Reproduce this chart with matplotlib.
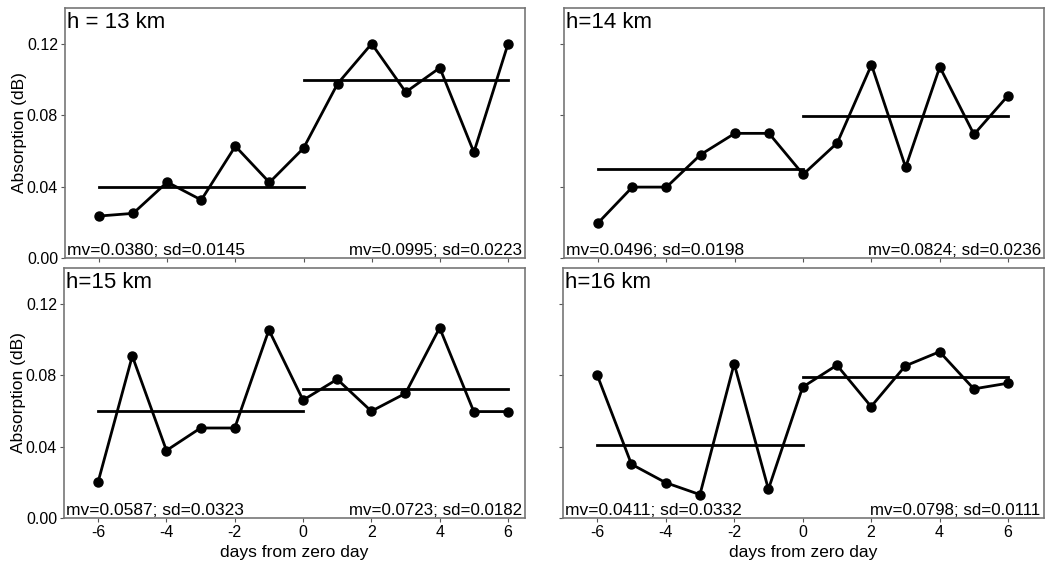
import numpy as np
import matplotlib
matplotlib.use('Agg')
import matplotlib.pyplot as plt

plt.rcParams['font.family'] = ['Liberation Sans', 'DejaVu Sans']

days = [-6, -5, -4, -3, -2, -1, 0, 1, 2, 3, 4, 5, 6]

# absorption values
h13 = [0.0235, 0.025, 0.0425, 0.0325, 0.0626, 0.0423, 0.0615, 0.0976, 0.120, 0.0929, 0.1065, 0.0592, 0.1198]
h14 = [0.0197, 0.0397, 0.0397, 0.0579, 0.0698, 0.0698, 0.0468, 0.0645, 0.1082, 0.0508, 0.107, 0.0692, 0.091]
h15 = [0.0203, 0.0907, 0.0378, 0.0504, 0.0504, 0.1053, 0.066, 0.0777, 0.0598, 0.0698, 0.1065, 0.0596, 0.0596]
h16 = [0.080, 0.0301, 0.0198, 0.0131, 0.0864, 0.0161, 0.0733, 0.0856, 0.0624, 0.0852, 0.0931, 0.0723, 0.0755]

# mean levels drawn before / after zero day
mean_before = [0.040, 0.0498, 0.0602, 0.0407]
mean_after = [0.0999, 0.0794, 0.072, 0.0791]

labels = ['h = 13 km', 'h=14 km', 'h=15 km', 'h=16 km']
stats_before = ['mv=0.0380; sd=0.0145', 'mv=0.0496; sd=0.0198',
                'mv=0.0587; sd=0.0323', 'mv=0.0411; sd=0.0332']
stats_after = ['mv=0.0995; sd=0.0223', 'mv=0.0824; sd=0.0236',
               'mv=0.0723; sd=0.0182', 'mv=0.0798; sd=0.0111']
series = [h13, h14, h15, h16]

W, H = 1049, 568
fig = plt.figure(figsize=(W / 100, H / 100), dpi=100)

# axes boxes in pixels: left, top, right, bottom
boxes = [(65, 8, 525, 258), (564, 8, 1044, 258),
         (64, 268, 525, 518), (563, 268, 1044, 518)]
xlims = [(-7, 6.5), (-7, 7.05), (-7, 6.5), (-7, 7.05)]

for i, (l, t, r, b) in enumerate(boxes):
    ax = fig.add_axes([l / W, 1 - b / H, (r - l) / W, (b - t) / H])
    ax.plot(days, series[i], color='black', lw=2, marker='o', ms=6.5, zorder=3)
    ax.plot([-6, 0], [mean_before[i]] * 2, color='black', lw=2)
    ax.plot([0, 6], [mean_after[i]] * 2, color='black', lw=2)
    ax.set_xlim(*xlims[i])
    ax.set_ylim(0, 0.14)
    ax.set_yticks([0.0, 0.04, 0.08, 0.12])
    ax.set_xticks([-6, -4, -2, 0, 2, 4, 6])
    for sp in ax.spines.values():
        sp.set_color('#777777')
        sp.set_linewidth(1.2)
    ax.tick_params(direction='out', length=3, width=0.8, color='#555555',
                   labelsize=11.5, pad=2)
    if i % 2 == 0:
        ax.set_yticklabels(['0.00', '0.04', '0.08', '0.12'])
        ax.set_ylabel('Absorption (dB)', fontsize=12.5, labelpad=0)
    else:
        ax.set_yticklabels([])
    if i >= 2:
        ax.set_xticklabels(['-6', '-4', '-2', '0', '2', '4', '6'])
        ax.set_xlabel('days from zero day', fontsize=12.5, labelpad=4)
    else:
        ax.set_xticklabels([])
    ax.text(0.004, 0.985, labels[i], transform=ax.transAxes, ha='left', va='top',
            fontsize=16)
    ax.text(0.004, 0.0, stats_before[i], transform=ax.transAxes, ha='left',
            va='bottom', fontsize=12.5)
    ax.text(0.993, 0.0, stats_after[i], transform=ax.transAxes, ha='right',
            va='bottom', fontsize=12.2)

fig.savefig('out.png', dpi=100)
